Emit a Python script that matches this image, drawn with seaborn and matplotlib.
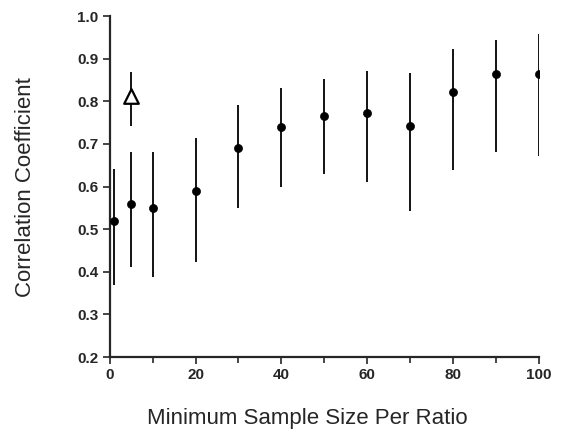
import matplotlib
matplotlib.use('Agg')
import matplotlib.pyplot as plt
import seaborn as sns
import pandas as pd

sns.set_style('ticks')
plt.rcParams['font.family'] = ['Liberation Sans', 'DejaVu Sans']

# circles: minimum sample size, mean r, lower and upper end of bar
sample_size = [1, 5, 10, 20, 30, 40, 50, 60, 70, 80, 90, 100]
corr = [0.52, 0.56, 0.55, 0.59, 0.69, 0.74, 0.765, 0.773, 0.742, 0.821, 0.864, 0.864]
corr_low = [0.37, 0.412, 0.388, 0.423, 0.549, 0.599, 0.629, 0.611, 0.543, 0.640, 0.681, 0.671]
corr_high = [0.641, 0.68, 0.68, 0.714, 0.791, 0.832, 0.852, 0.872, 0.866, 0.924, 0.943, 0.958]

# the single triangle
tri_x = [5]
tri_y = [0.813]
tri_low = [0.742]
tri_high = [0.868]

x_ticks = [0, 20, 40, 60, 80, 100]
x_minor = [10, 30, 50, 70, 90]
y_ticks = [0.2, 0.3, 0.4, 0.5, 0.6, 0.7, 0.8, 0.9, 1.0]

df = pd.DataFrame({'n': sample_size, 'r': corr, 'lo': corr_low, 'hi': corr_high})
tri = pd.DataFrame({'n': tri_x, 'r': tri_y, 'lo': tri_low, 'hi': tri_high})

fig = plt.figure(figsize=(5.63, 4.48), dpi=100)
ax = fig.add_axes([0.195, 0.203, 0.762, 0.761])

ax.vlines(df['n'], df['lo'], df['hi'], color='black', lw=1.3)
ax.vlines(tri['n'], tri['lo'], tri['hi'], color='black', lw=1.3)
sns.scatterplot(x='n', y='r', data=df, ax=ax, color='black', s=34, edgecolor='black', zorder=3)
sns.scatterplot(x='n', y='r', data=tri, ax=ax, marker='^', s=110, facecolor='white',
                edgecolor='black', linewidth=1.6, zorder=3)

ax.set_xlim(0, 100)
ax.set_ylim(0.2, 1.0)
ax.set_xticks(x_ticks)
ax.set_xticks(x_minor, minor=True)
ax.set_xticklabels([str(v) for v in x_ticks], fontweight='bold')
ax.set_yticks(y_ticks)
ax.set_yticklabels([f'{v:.1f}' for v in y_ticks], fontweight='bold')
ax.tick_params(axis='both', which='major', length=5, width=1.2, labelsize=11, pad=3)
ax.tick_params(axis='x', which='minor', length=4, width=1.2)

ax.set_xlabel('Minimum Sample Size Per Ratio', fontsize=16)
ax.xaxis.set_label_coords(0.46, -0.15)
ax.set_ylabel('Correlation Coefficient', fontsize=16, labelpad=30)
for sp in ['left', 'bottom']:
    ax.spines[sp].set_linewidth(1.6)
sns.despine(ax=ax)

plt.savefig('out.png', dpi=100)
